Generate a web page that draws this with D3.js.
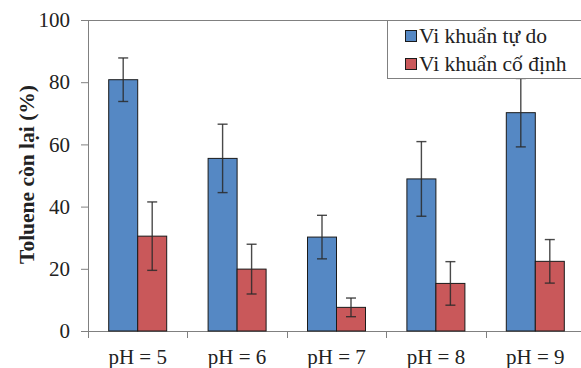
<!DOCTYPE html>
<html>
<head>
<meta charset="utf-8">
<script src="https://cdn.jsdelivr.net/npm/d3@7"></script>
<style>
body{margin:0;background:#fff;}
</style>
</head>
<body>
<svg width="581" height="368"></svg>
<script>
var categories = ["pH = 5","pH = 6","pH = 7","pH = 8","pH = 9"];
var seriesNames = ["Vi khuẩn tự do","Vi khuẩn cố định"];
var freeVals = [80.8, 55.5, 30.2, 48.9, 70.2];
var freeErr = [7, 11, 7, 12, 11];
var fixedVals = [30.5, 19.9, 7.6, 15.3, 22.4];
var fixedErr = [11, 8, 3, 7, 7];
var yTicks = [0, 20, 40, 60, 80, 100];
var colors = ["#5588c4", "#c9585a"];
var serif = "'Liberation Serif'";

var svg = d3.select("svg");
var x = d3.scaleBand().domain(categories).range([88, 585]);
var y = d3.scaleLinear().domain([0, 100]).range([331, 20]);
var barW = 29;

//y axis
var yAxis = svg.append("g").attr("transform","translate(88,0)")
	.call(d3.axisLeft(y).tickValues(yTicks).tickSize(7).tickPadding(11));
yAxis.select(".domain").attr("stroke","#808080").attr("d","M0.5,20V331");
yAxis.selectAll(".tick line").attr("stroke","#808080");
yAxis.selectAll(".tick text").style("font-family",serif).style("font-size","21px").attr("fill","#222");

//top line of the plot area
svg.append("line").attr("x1",88).attr("x2",581).attr("y1",y(100)+0.5).attr("y2",y(100)+0.5).attr("stroke","#808080");

//x axis
var xAxis = svg.append("g").attr("transform","translate(0,331)")
	.call(d3.axisBottom(x).tickSize(0).tickPadding(18));
xAxis.select(".domain").attr("stroke","#808080").attr("d","M81,0.5H581");
xAxis.selectAll(".tick text").style("font-family",serif).style("font-size","21px").attr("fill","#222");
//category ticks between groups
var bounds = categories.map(function(c){ return x(c); });
svg.selectAll("line.xt").data(bounds).enter().append("line")
	.attr("class","xt")
	.attr("x1",function(d){ return Math.round(d)+0.5; })
	.attr("x2",function(d){ return Math.round(d)+0.5; })
	.attr("y1",331).attr("y2",338).attr("stroke","#808080");

//bars
var data = [];
for(var i = 0;i < categories.length;i++){
	data.push({c:categories[i], v:freeVals[i], e:freeErr[i], s:0});
	data.push({c:categories[i], v:fixedVals[i], e:fixedErr[i], s:1});
}
function cx(d){
	var mid = x(d.c) + x.bandwidth()/2;
	return d.s == 0 ? mid - barW/2 : mid + barW/2;
}
svg.selectAll("rect.bar").data(data).enter().append("rect")
	.attr("class","bar")
	.attr("x",function(d){ return cx(d) - barW/2; })
	.attr("width",barW)
	.attr("y",function(d){ return y(d.v); })
	.attr("height",function(d){ return y(0) - y(d.v); })
	.attr("fill",function(d){ return colors[d.s]; })
	.attr("stroke","#1a1a1a").attr("stroke-width",1);

//error bars
var eb = svg.selectAll("g.err").data(data).enter().append("g").attr("class","err")
	.attr("stroke","#2a2a2a").attr("stroke-opacity",0.85).attr("stroke-width",1.4);
eb.append("line")
	.attr("x1",cx).attr("x2",cx)
	.attr("y1",function(d){ return y(d.v + d.e); })
	.attr("y2",function(d){ return y(d.v - d.e); });
eb.append("line")
	.attr("x1",function(d){ return cx(d)-5; }).attr("x2",function(d){ return cx(d)+5; })
	.attr("y1",function(d){ return y(d.v + d.e); })
	.attr("y2",function(d){ return y(d.v + d.e); });
eb.append("line")
	.attr("x1",function(d){ return cx(d)-5; }).attr("x2",function(d){ return cx(d)+5; })
	.attr("y1",function(d){ return y(d.v - d.e); })
	.attr("y2",function(d){ return y(d.v - d.e); });

//y title
svg.append("text")
	.attr("transform","translate(34,174.5) rotate(-90)")
	.attr("text-anchor","middle")
	.style("font-family",serif).style("font-size","21.5px").style("font-weight","bold")
	.attr("fill","#222")
	.text("Toluene còn lại (%)");

//legend
var lg = svg.append("g");
lg.append("rect").attr("x",387.5).attr("y",20.5).attr("width",200).attr("height",58)
	.attr("fill","#fff").attr("stroke","#808080");
seriesNames.forEach(function(n,i){
	var yy = 36 + i*28;
	lg.append("rect").attr("x",405.5).attr("y",yy-5.5).attr("width",11).attr("height",11)
		.attr("fill",colors[i]).attr("stroke","#1a1a1a");
	lg.append("text").attr("x",419).attr("y",yy+7)
		.style("font-family",serif).style("font-size","21.5px").attr("fill","#222").text(n);
});
</script>
</body>
</html>
